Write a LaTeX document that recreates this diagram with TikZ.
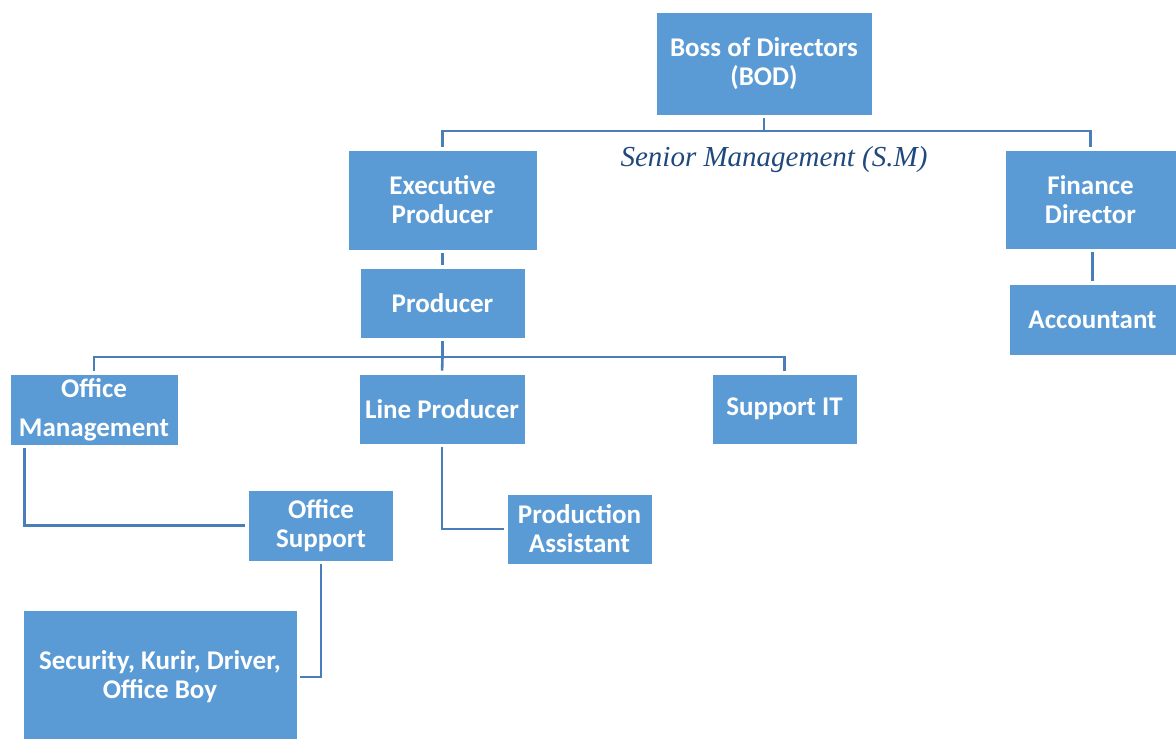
\documentclass[tikz,border=0pt]{standalone}
\usepackage{fontspec}
\setmainfont{Carlito}
\newfontfamily\smfont{Liberation Serif}
\usepackage{tikz}
\usetikzlibrary{positioning}
\definecolor{boxblue}{HTML}{5B9BD5}
\definecolor{lineblue}{HTML}{4A7EBB}
\definecolor{smblue}{HTML}{1F497D}
\tikzset{
  orgbox/.style={rectangle, fill=boxblue, draw=white, line width=0.4pt, text=white, font=\bfseries\fontsize{13.5}{14.5}\selectfont, align=center, inner sep=0pt},
  link/.style={draw=lineblue, line width=1.3pt, shorten <=1.5pt, shorten >=1.5pt},
  linkin/.style={draw=lineblue, line width=1.3pt, shorten >=1.5pt},
  linkout/.style={draw=lineblue, line width=1.3pt, shorten <=1.5pt}
}

\begin{document}
\begin{tikzpicture}[x=0.5pt, y=-0.5pt]

\useasboundingbox (0,0) rectangle (1176,738);

\node[orgbox, minimum width=108pt, minimum height=51.5pt] (bod) at (764,63.5) {Boss of Directors\\(BOD)};

\node[orgbox, minimum width=94.5pt, minimum height=50pt] (ep) at (442.5,200) {Executive\\Producer};

\node[orgbox, minimum width=85.5pt, minimum height=49.5pt] (fd) at (1090.5,199.5) {Finance\\Director};

\coordinate (smbus) at (764,131);
\draw[linkout] (bod.south) -- (smbus);
\draw[linkin] (smbus) -| (ep.north);
\draw[linkin] (smbus) -| (fd.north);

\node[text=smblue, font=\smfont\itshape\fontsize{14.5}{17}\selectfont] (sm) at (774,160) {Senior Management (S.M)};

\node[orgbox, minimum width=83.5pt, minimum height=35.5pt] (acc) at (1092.5,319.5) {Accountant};

\draw[link] (acc.north |- fd.south) -- (acc.north);

\node[orgbox, minimum width=82.5pt, minimum height=35pt] (prod) at (442.5,303) {Producer};

\draw[link] (ep.south) -- (prod.north);

\node[orgbox, minimum width=84pt, minimum height=35.5pt] (om) at (94,409.5) {Office\\[5pt]Management};

\node[orgbox, minimum width=83pt, minimum height=35pt] (lp) at (442,409) {Line Producer};

\node[orgbox, minimum width=72.5pt, minimum height=35pt] (sit) at (784.5,409) {Support IT};

\coordinate (pbus) at (442.5,357);
\draw[linkout] (prod.south) -- (pbus);
\draw[linkin] (pbus) -| (om.north);
\draw[linkin] (pbus) -- (lp.north);
\draw[linkin] (pbus) -| (sit.north);

\node[orgbox, minimum width=72.5pt, minimum height=35.5pt] (os) at (321,525.5) {Office\\Support};

\draw[link] ([xshift=7.5pt]om.south west) |- (os.west);

\node[orgbox, minimum width=72.5pt, minimum height=35pt] (pa) at (579.5,529) {Production\\Assistant};

\draw[link] (lp.south) |- (pa.west);

\node[orgbox, minimum width=137pt, minimum height=67pt] (sec) at (160,677) {Security, Kurir, Driver,\\Office Boy};

\draw[link] (os.south) |- (sec.east);

\end{tikzpicture}
\end{document}
